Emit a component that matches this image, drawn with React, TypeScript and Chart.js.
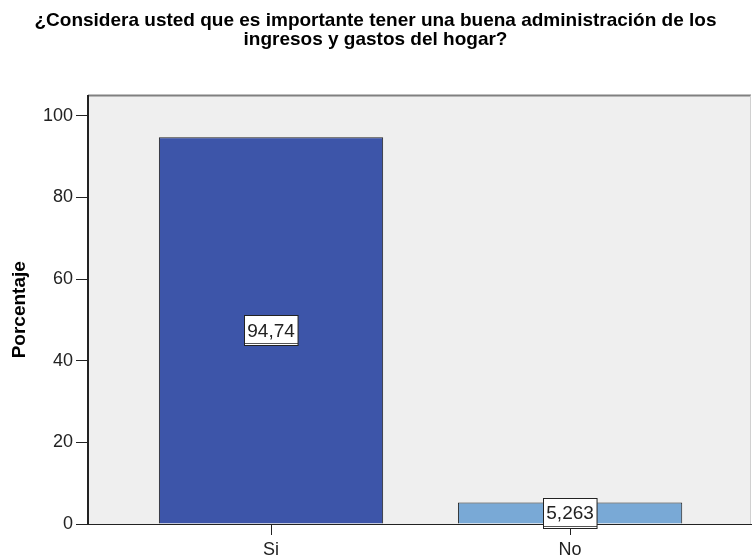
import React, { useEffect, useRef } from "react";
import { Chart, registerables } from "chart.js";

Chart.register(...registerables);

const titleLines = [
  "¿Considera usted que es importante tener una buena administración de los",
  "ingresos y gastos del hogar?",
];
const categories = ["Si", "No"];
const values = [94.74, 5.263];
const valueLabels = ["94,74", "5,263"];
const barColors = ["#3D55A9", "#79A9D6"];
const yTicks = [0, 20, 40, 60, 80, 100];
const yTitle = "Porcentaje";

const FONT = "'Liberation Sans', Arial, sans-serif";

export default function App() {
  const ref = useRef<HTMLCanvasElement | null>(null);

  useEffect(() => {
    document.body.style.margin = "0";
    const canvas = ref.current;
    if (!canvas) return;

    const bgPlugin = {
      id: "plotBg",
      beforeDraw(chart: any) {
        const { ctx, chartArea: a } = chart;
        ctx.save();
        ctx.fillStyle = "#EFEFEF";
        ctx.fillRect(a.left, a.top, a.right - a.left, a.bottom - a.top);
        ctx.strokeStyle = "#808080";
        ctx.lineWidth = 2;
        ctx.beginPath();
        ctx.moveTo(a.left, a.top);
        ctx.lineTo(a.right, a.top);
        ctx.stroke();
        ctx.strokeStyle = "#D0D0D0";
        ctx.lineWidth = 1;
        ctx.beginPath();
        ctx.moveTo(a.right - 0.5, a.top);
        ctx.lineTo(a.right - 0.5, a.bottom);
        ctx.stroke();
        ctx.restore();
      },
    };

    const labelPlugin = {
      id: "valueLabels",
      afterDatasetsDraw(chart: any) {
        const { ctx } = chart;
        const meta = chart.getDatasetMeta(0);
        ctx.save();
        ctx.font = `19px ${FONT}`;
        ctx.textAlign = "center";
        ctx.textBaseline = "middle";
        meta.data.forEach((bar: any, i: number) => {
          const text = valueLabels[i];
          const cy = (bar.y + bar.base) / 2;
          const w = ctx.measureText(text).width + 6;
          const h = 30;
          const x0 = Math.round(bar.x - w / 2) + 0.5;
          const y0 = Math.round(cy - h / 2) + 0.5;
          ctx.fillStyle = "#FFFFFF";
          ctx.fillRect(x0, y0, w, h);
          ctx.strokeStyle = "#555555";
          ctx.lineWidth = 1;
          ctx.beginPath();
          ctx.moveTo(x0, y0 + h - 2);
          ctx.lineTo(x0 + w, y0 + h - 2);
          ctx.stroke();
          ctx.strokeStyle = "#222222";
          ctx.strokeRect(x0, y0, w, h);
          ctx.fillStyle = "#222222";
          ctx.fillText(text, bar.x, cy + 1);
        });
        ctx.restore();
      },
    };

    const chart = new Chart(canvas, {
      type: "bar",
      data: {
        datasets: [
          {
            data: categories.map((c, i) => ({ x: i, y: values[i] })),
            backgroundColor: barColors,
            borderColor: "#222222",
            borderWidth: 1,
            barPercentage: 0.75,
            categoryPercentage: 1,
          } as any,
        ],
      },
      options: {
        animation: false,
        responsive: false,
        maintainAspectRatio: false,
        layout: { padding: { left: 0, right: 1, top: 0, bottom: 0 } },
        plugins: {
          legend: { display: false },
          tooltip: { enabled: false },
          title: {
            display: true,
            text: titleLines,
            color: "#000000",
            font: { family: FONT, size: 19, weight: "bold", lineHeight: 1.0 },
            padding: { top: 11.5, bottom: 46 },
          },
        },
        scales: {
          x: {
            type: "linear",
            offset: false,
            min: -0.612,
            max: 1.605,
            afterBuildTicks: (scale: any) => {
              scale.ticks = categories.map((_, i) => ({ value: i }));
            },
            afterFit: (scale: any) => {
              scale.height = 34;
            },
            ticks: {
              callback: (v: any) => categories[v as number] ?? "",
              color: "#222222",
              font: { family: FONT, size: 18 },
              padding: 4,
              maxRotation: 0,
            },
            grid: {
              offset: false,
              drawOnChartArea: false,
              drawTicks: true,
              tickLength: 11,
              color: "#222222",
            },
            border: { display: true, color: "#222222", width: 1 },
          },
          y: {
            type: "linear",
            min: 0,
            max: 105,
            afterBuildTicks: (scale: any) => {
              scale.ticks = yTicks.map((v) => ({ value: v }));
            },
            afterFit: (scale: any) => {
              scale.width = 88;
            },
            ticks: {
              color: "#222222",
              font: { family: FONT, size: 18 },
              padding: 3,
            },
            grid: {
              drawOnChartArea: false,
              drawTicks: true,
              tickLength: 12,
              color: "#222222",
            },
            border: { display: true, color: "#222222", width: 2 },
            title: {
              display: true,
              text: yTitle,
              color: "#000000",
              font: { family: FONT, size: 19, weight: "bold", lineHeight: 1.0 },
              padding: { top: 10, bottom: 0 },
            },
          },
        },
      } as any,
      plugins: [bgPlugin, labelPlugin],
    });
    return () => chart.destroy();
  }, []);

  return (
    <div style={{ position: "fixed", left: 0, top: 0, width: 752, height: 558, background: "#FFFFFF" }}>
      <canvas ref={ref} width={752} height={558} style={{ width: 752, height: 558 }} />
    </div>
  );
}
